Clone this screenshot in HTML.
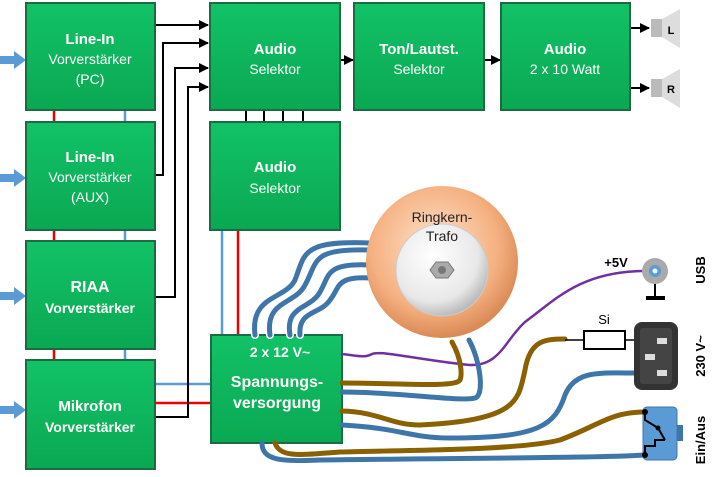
<!DOCTYPE html>
<html><head><meta charset="utf-8"><style>
html,body{margin:0;padding:0;background:#fff;}
svg{display:block;font-family:"Liberation Sans","DejaVu Sans",sans-serif;}
</style></head><body>
<svg width="717" height="477" viewBox="0 0 717 477" xmlns="http://www.w3.org/2000/svg">
<defs>
<linearGradient id="g" x1="0" y1="0" x2="0" y2="1"><stop offset="0" stop-color="#12c266"/><stop offset="1" stop-color="#0aa852"/></linearGradient>
<radialGradient id="tr" cx="0.45" cy="0.4" r="0.6"><stop offset="0" stop-color="#fde3cc"/><stop offset="0.7" stop-color="#f5b080"/><stop offset="1" stop-color="#d98a55"/></radialGradient>
<radialGradient id="in" cx="0.4" cy="0.35" r="0.7"><stop offset="0" stop-color="#ffffff"/><stop offset="0.7" stop-color="#e8e8e8"/><stop offset="1" stop-color="#b0b0b0"/></radialGradient>
<marker id="a" markerWidth="10" markerHeight="10" refX="9" refY="5" orient="auto" markerUnits="userSpaceOnUse"><path d="M0,0 L10,5 L0,10 z" fill="#000"/></marker>
</defs>

<g fill="#5b9bd5">
<path d="M0,56 H14 V51 L26,60 L14,69 V64 H0z"/>
<path d="M0,174 H14 V169 L26,178 L14,187 V182 H0z"/>
<path d="M0,292 H14 V287 L26,296 L14,305 V300 H0z"/>
<path d="M0,406 H14 V401 L26,410 L14,419 V414 H0z"/>
</g>

<g stroke-width="2.5">
<line x1="54" y1="110" x2="54" y2="360" stroke="#e00"/>
<line x1="125" y1="110" x2="125" y2="360" stroke="#5b9bd5"/>
<line x1="222" y1="230" x2="222" y2="335" stroke="#5b9bd5"/>
<line x1="238" y1="230" x2="238" y2="335" stroke="#e00"/>
<line x1="155" y1="384" x2="211" y2="384" stroke="#5b9bd5"/>
<line x1="155" y1="403" x2="211" y2="403" stroke="#e00"/>
</g>

<g stroke="#000" stroke-width="2" fill="none">
<path d="M155,25 H208" marker-end="url(#a)"/>
<path d="M155,175 H163 V43 H208" marker-end="url(#a)"/>
<path d="M155,297 H175 V68 H208" marker-end="url(#a)"/>
<path d="M155,417 H188 V87 H208" marker-end="url(#a)"/>
<path d="M340,60 H353" marker-end="url(#a)"/>
<path d="M484,60 H500" marker-end="url(#a)"/>
<path d="M630,28 H649" marker-end="url(#a)"/>
<path d="M630,88 H649" marker-end="url(#a)"/>
<path d="M246,110 V122 M264,110 V122 M283,110 V122 M303,110 V122"/>
</g>

<g stroke="#1b6b45" stroke-width="2" fill="url(#g)">
<rect x="26" y="3" width="129" height="107"/>
<rect x="26" y="122" width="129" height="108"/>
<rect x="26" y="241" width="129" height="108"/>
<rect x="26" y="360" width="129" height="109"/>
<rect x="210" y="3" width="130" height="107"/>
<rect x="210" y="122" width="130" height="108"/>
<rect x="354" y="3" width="130" height="107"/>
<rect x="501" y="3" width="129" height="107"/>
<rect x="211" y="335" width="131" height="108"/>
</g>
<g fill="#fff" text-anchor="middle" font-size="14">
<text x="90" y="44" font-weight="bold" font-size="15">Line-In</text>
<text x="90" y="64">Vorverstärker</text>
<text x="90" y="84">(PC)</text>
<text x="90" y="162" font-weight="bold" font-size="15">Line-In</text>
<text x="90" y="182">Vorverstärker</text>
<text x="90" y="202">(AUX)</text>
<text x="90" y="292" font-weight="bold" font-size="16">RIAA</text>
<text x="90" y="313" font-weight="bold">Vorverstärker</text>
<text x="90" y="411" font-weight="bold" font-size="15">Mikrofon</text>
<text x="90" y="432" font-weight="bold">Vorverstärker</text>
<text x="275" y="54" font-weight="bold" font-size="15">Audio</text>
<text x="275" y="74">Selektor</text>
<text x="275" y="172" font-weight="bold" font-size="15">Audio</text>
<text x="275" y="193">Selektor</text>
<text x="419" y="54" font-weight="bold" font-size="15">Ton/Lautst.</text>
<text x="419" y="74">Selektor</text>
<text x="565" y="54" font-weight="bold" font-size="15">Audio</text>
<text x="565" y="74">2 x 10 Watt</text>
<text x="280" y="357" font-weight="bold">2 x 12 V~</text>
<text x="277" y="387" font-weight="bold" font-size="16">Spannungs-</text>
<text x="277" y="408" font-weight="bold" font-size="16">versorgung</text>
</g>

<g>
<rect x="651" y="19" width="11" height="18" fill="#bbb"/><path d="M662,19 L680,9 L680,48 L662,37z" fill="#ddd"/>
<text x="671" y="34" font-size="11" font-weight="bold" text-anchor="middle">L</text>
<rect x="651" y="79" width="11" height="18" fill="#bbb"/><path d="M662,79 L680,69 L680,108 L662,97z" fill="#ddd"/>
<text x="671" y="93" font-size="11" font-weight="bold" text-anchor="middle">R</text>
</g>

<g fill="none" stroke-linecap="round">
<g stroke="#fff" stroke-width="8">
<path d="M370,243 C300,240 305,255 295,280 C285,300 250,295 255,335"/>
<path d="M370,250 C310,248 318,262 305,285 C295,305 265,300 270,335"/>
<path d="M370,265 C325,263 330,275 320,292 C310,310 285,305 290,335"/>
<path d="M370,278 C335,276 340,288 330,300 C320,315 298,310 300,335"/>
</g>
<g stroke="#3f76aa" stroke-width="5">
<path d="M370,243 C300,240 305,255 295,280 C285,300 250,295 255,335"/>
<path d="M370,250 C310,248 318,262 305,285 C295,305 265,300 270,335"/>
<path d="M370,265 C325,263 330,275 320,292 C310,310 285,305 290,335"/>
<path d="M370,278 C335,276 340,288 330,300 C320,315 298,310 300,335"/>
</g>
</g>

<circle cx="442" cy="262" r="76" fill="url(#tr)"/>
<circle cx="442" cy="270" r="46" fill="url(#in)" stroke="#ccc" stroke-width="1"/>
<path d="M436,262 L448,262 L454,270 L448,278 L436,278 L430,270z" fill="#aaa" stroke="#777"/>
<circle cx="442" cy="270" r="4" fill="#777"/>
<text x="442" y="222" font-size="14" text-anchor="middle" fill="#222">Ringkern-</text>
<text x="442" y="241" font-size="14" text-anchor="middle" fill="#222">Trafo</text>

<g fill="none" stroke-linecap="round">
<path d="M342,354 C360,356 365,358 372,354 C380,350 420,360 470,365 C500,366 505,340 525,322 C555,300 580,272 642,271" stroke="#7030a0" stroke-width="2.5"/>
<path d="M452,342 C462,360 462,375 460,380 C455,388 400,383 342,383" stroke="#8a6100" stroke-width="5"/>
<path d="M469,340 C480,360 485,395 475,398 C460,402 400,392 342,392" stroke="#3f76aa" stroke-width="5"/>
<path d="M342,411 C380,412 390,425 420,425 C520,420 518,400 525,370 C530,340 545,339 565,339" stroke="#8a6100" stroke-width="5"/>
<path d="M342,425 C400,428 410,438 450,438 C540,438 555,425 565,395 C575,370 600,373 635,373" stroke="#3f76aa" stroke-width="5"/>
<path d="M262,443 C262,460 280,462 320,460 C460,458 600,458 645,455" stroke="#3f76aa" stroke-width="5"/>
<path d="M275,443 C280,458 300,455 340,452 C420,450 520,450 560,440 C600,425 610,412 645,412" stroke="#8a6100" stroke-width="5"/>
</g>

<circle cx="655" cy="271" r="13" fill="#aaa"/>
<circle cx="655" cy="271" r="6" fill="#5b9bd5"/><circle cx="655" cy="271" r="2.5" fill="#fff"/>
<line x1="655" y1="284" x2="655" y2="297" stroke="#000" stroke-width="2"/>
<rect x="646" y="296" width="19" height="4" fill="#000"/>
<text x="616" y="267" font-size="13" font-weight="bold" text-anchor="middle">+5V</text>

<line x1="565" y1="340" x2="634" y2="340" stroke="#000" stroke-width="1.5"/>
<rect x="584" y="331" width="41" height="18" fill="#fff" stroke="#000" stroke-width="2"/>
<text x="604" y="324" font-size="13" text-anchor="middle">Si</text>
<rect x="634" y="322" width="44" height="68" rx="8" fill="#333"/>
<rect x="640" y="328" width="32" height="56" rx="3" fill="#444"/>
<rect x="657" y="338" width="10" height="6" fill="#ddd"/>
<rect x="645" y="354" width="10" height="6" fill="#ddd"/>
<rect x="657" y="370" width="10" height="6" fill="#ddd"/>

<rect x="643" y="407" width="34" height="53" rx="4" fill="#5b9bd5" stroke="#3f76aa"/>
<rect x="677" y="425" width="6" height="16" fill="#3f76aa"/>
<g stroke="#000" stroke-width="2" fill="none">
<path d="M645,412 V420 L658,428 L665,440"/>
<path d="M645,455 V446 H655 V440 H665"/>
</g>
<circle cx="645" cy="412" r="3" fill="#000"/><circle cx="645" cy="455" r="3" fill="#000"/><circle cx="658" cy="428" r="2.5" fill="#000"/>

<g font-size="13" font-weight="bold" text-anchor="middle">
<text transform="translate(705,270) rotate(-90)">USB</text>
<text transform="translate(705,356) rotate(-90)">230 V~</text>
<text transform="translate(705,440) rotate(-90)">Ein/Aus</text>
</g>
</svg>
</body></html>
